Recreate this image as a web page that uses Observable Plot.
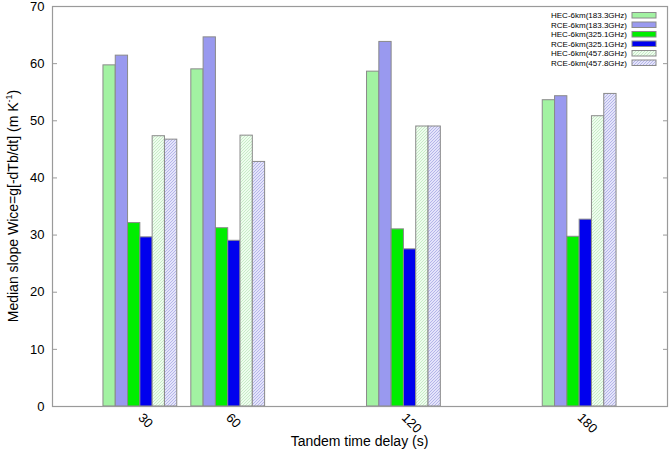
<!DOCTYPE html>
<html>
<head>
<meta charset="utf-8">
<script src="https://cdn.jsdelivr.net/npm/d3@7"></script>
<script src="https://cdn.jsdelivr.net/npm/@observablehq/plot@0.6"></script>
<style>
  body { margin: 0; background: #fff; }
  #chart svg { font-family: "Liberation Sans", Arial, sans-serif; }
</style>
</head>
<body>
<div id="chart"></div>
<script>
const delays = [30, 60, 120, 180];
const seriesNames = [
  "HEC-6km(183.3GHz)", "RCE-6km(183.3GHz)",
  "HEC-6km(325.1GHz)", "RCE-6km(325.1GHz)",
  "HEC-6km(457.8GHz)", "RCE-6km(457.8GHz)"
];
const hec183 = [59.7, 59.0, 58.6, 53.6];
const rce183 = [61.4, 64.6, 63.8, 54.3];
const hec325 = [32.1, 31.2, 31.0, 29.7];
const rce325 = [29.6, 29.0, 27.5, 32.7];
const hec457 = [47.3, 47.4, 49.0, 50.8];
const rce457 = [46.7, 42.8, 49.0, 54.7];
const yTicks = [0, 10, 20, 30, 40, 50, 60, 70];
const seriesFills = ["#a2f2a2", "#9999ef", "#00ee00", "#0000ee", "url(#patG)", "url(#patB)"];

const allValues = [hec183, rce183, hec325, rce325, hec457, rce457];
const barW = 4.2;
const rows = [];
allValues.forEach((vals, si) => {
  vals.forEach((v, di) => {
    rows.push({
      series: seriesNames[si],
      si,
      delay: delays[di],
      value: v
    });
  });
});

const W = 671, H = 452;
const mL = 52, mR = 4, mT = 6, mB = 46;

const chart = Plot.plot({
  width: W,
  height: H,
  marginLeft: mL,
  marginRight: mR,
  marginTop: mT,
  marginBottom: mB,
  style: { fontSize: "13px", fontFamily: "Liberation Sans, Arial, sans-serif", color: "#000", background: "#fff" },
  x: { type: "linear", domain: [0, 210] },
  y: { domain: [0, 70] },
  color: { type: "ordinal", domain: seriesNames, range: seriesFills },
  marks: [
    Plot.rectY(rows, {
      x1: d => d.delay + (d.si - 3) * barW,
      x2: d => d.delay + (d.si - 2) * barW,
      y1: 0,
      y2: "value",
      fill: "series",
      stroke: "#8a8a8a",
      strokeWidth: 1
    }),
    Plot.frame({ stroke: "#9a9a9a", strokeWidth: 1.2 }),
    Plot.axisY({ ticks: yTicks, tickSize: -5, tickPadding: 13, label: null, stroke: "#9a9a9a", fontSize: 13 }),
    Plot.axisY({ anchor: "right", ticks: yTicks, tickSize: -5, tickFormat: () => "", label: null, stroke: "#9a9a9a" }),
    Plot.axisX({ ticks: delays, tickSize: 0, tickPadding: 9, tickRotate: 45, textAnchor: "start", label: null, fontSize: 13 })
  ]
});

document.getElementById("chart").appendChild(chart);

const svg = d3.select(chart);
const defs = svg.insert("defs", ":first-child");
function addPattern(id, bg, fg) {
  const p = defs.append("pattern")
    .attr("id", id).attr("patternUnits", "userSpaceOnUse")
    .attr("width", 3).attr("height", 3);
  p.append("rect").attr("width", 3).attr("height", 3).attr("fill", bg);
  p.append("path").attr("d", "M0,3 L3,0 M-1,1 L1,-1 M2,4 L4,2")
    .attr("stroke", fg).attr("stroke-width", 0.8);
}
addPattern("patG", "#eefcee", "#bde8bd");
addPattern("patB", "#e4e4fa", "#a9a9e4");

// Axis labels
svg.append("text")
  .attr("transform", `translate(18,${(mT + H - mB) / 2}) rotate(-90)`)
  .attr("text-anchor", "middle")
  .attr("font-size", 14)
  .attr("fill", "#000")
  .call(t => {
    t.append("tspan").text("Median slope Wice=g[-dTb/dt] (m K");
    t.append("tspan").attr("font-size", 9).attr("dy", -6).text("-1");
    t.append("tspan").attr("dy", 6).text(")");
  });

svg.append("text")
  .attr("x", (mL + W - mR) / 2)
  .attr("y", 446)
  .attr("text-anchor", "middle")
  .attr("font-size", 14)
  .attr("fill", "#000")
  .text("Tandem time delay (s)");

// Legend
const lg = svg.append("g").attr("font-size", 8);
seriesNames.forEach((name, i) => {
  const cy = 15.5 + i * 9.5;
  lg.append("text")
    .attr("x", 627).attr("y", cy).attr("dy", "0.35em")
    .attr("text-anchor", "end").attr("fill", "#000")
    .attr("textLength", 76).attr("lengthAdjust", "spacingAndGlyphs")
    .text(name);
  lg.append("rect")
    .attr("x", 632).attr("y", cy - 3).attr("width", 24).attr("height", 5.5)
    .attr("fill", seriesFills[i]).attr("stroke", "#8a8a8a").attr("stroke-width", 1);
});
</script>
</body>
</html>
